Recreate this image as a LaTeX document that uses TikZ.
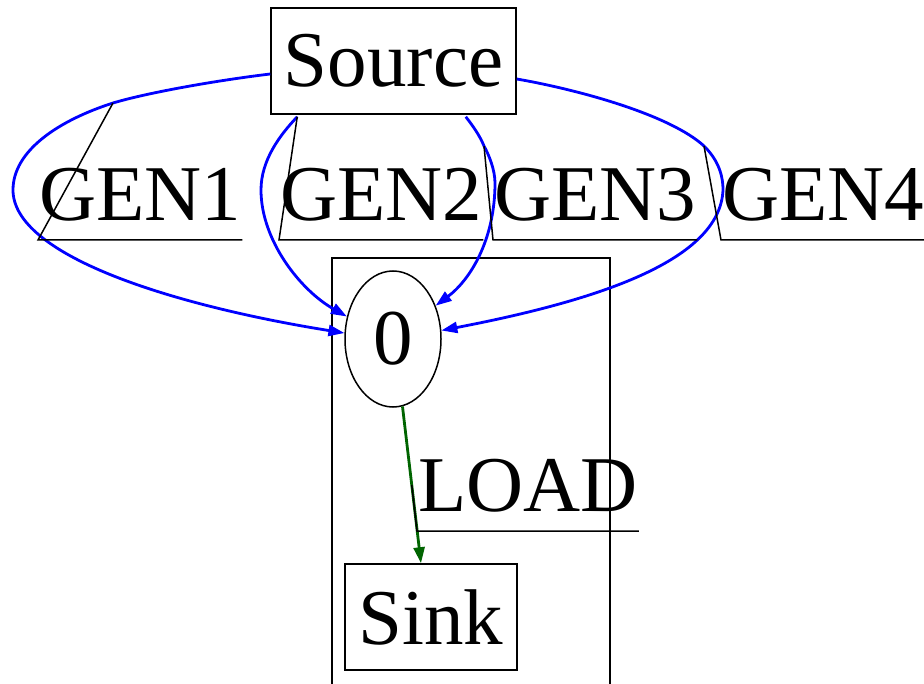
\documentclass[tikz,border=0pt]{standalone}
\usepackage{fontspec}
\setmainfont{Liberation Serif}
\usetikzlibrary{arrows.meta,calc,shapes.geometric}
\definecolor{edgeblue}{RGB}{0,0,255}
\definecolor{edgegreen}{RGB}{0,100,0}
\begin{document}
\begin{tikzpicture}[x=1pt,y=-1pt,
  bigfont/.style={font=\fontsize{79}{90}\selectfont},
  boxnode/.style={draw,line width=1.5pt,bigfont,inner sep=0pt,minimum height=106pt},
  ellnode/.style={draw,line width=1.5pt,ellipse,bigfont,inner sep=0pt,minimum width=96pt,minimum height=136pt},
  edgelabel/.style={bigfont,anchor=south west,inner xsep=1pt,inner ysep=0pt,text depth=19.5pt},
  labelline/.style={line width=1.5pt},
  genedge/.style={draw=edgeblue,line width=2.8pt,-{Triangle[length=16pt,width=11pt]}},
  loadedge/.style={draw=edgegreen,line width=2.8pt,-{Triangle[length=16pt,width=11pt]}},
  clusterframe/.style={line width=1.5pt}]
\useasboundingbox (0,0) rectangle (924,684);

% cluster frame (open at the bottom of the page)
\draw[clusterframe] (332,684) -- (332,258) -- (610,258) -- (610,684);

% nodes
\node[boxnode,minimum width=245pt] (source) at (393.5,61) {Source};
\node[ellnode] (zero) at (393,339) {0};
\node[boxnode,minimum width=172pt] (sink) at (431,617) {Sink};

% edge labels
\node[edgelabel] (g1) at (38,240) {GEN1};
\node[edgelabel] (g2) at (279,240) {GEN2};
\node[edgelabel] (g3) at (493,240) {GEN3};
\node[edgelabel] (g4) at (721,240) {GEN4};
\node[edgelabel] (ld) at (417,531) {LOAD};

% GEN1
\coordinate (m1) at (113,103);
\draw[genedge] ($(source.west)+(0,13)$) .. controls (220,80) and (150,92) .. (m1)
  .. controls (60,120) and (13,150) .. (13,190)
  .. controls (13,255) and (170,305) .. (zero.173);

% GEN2
\coordinate (m2) at ($(source.south west)+(27,2)$);
\draw[genedge] (m2) .. controls (280,135) and (261,160) .. (261,190)
  .. controls (261,240) and (300,290) .. (zero.154);

% GEN3
\coordinate (m3) at (484,146);
\draw[genedge] ($(source.south east)+(-51,2)$) .. controls (473,126) and (480,136) .. (m3)
  .. controls (489,155) and (495,170) .. (495,183)
  .. controls (495,240) and (470,280) .. (zero.38);

% GEN4
\coordinate (m4) at (704,146);
\draw[genedge] ($(source.east)+(0,18)$) .. controls (580,90) and (670,115) .. (m4)
  .. controls (716,158) and (723,172) .. (723,190)
  .. controls (720,260) and (600,300) .. (zero.10);

% LOAD
\draw[loadedge] (zero.278) -- coordinate[pos=0.5] (m5) ($(sink.north)+(-10,0)$);

% label underlines and leader lines
\foreach \l/\m in {g1/m1,g2/m2,g3/m3,g4/m4,ld/m5}{
  \draw[labelline] (\m) -- (\l.south west) -- (\l.south east);
}
\end{tikzpicture}
\end{document}
